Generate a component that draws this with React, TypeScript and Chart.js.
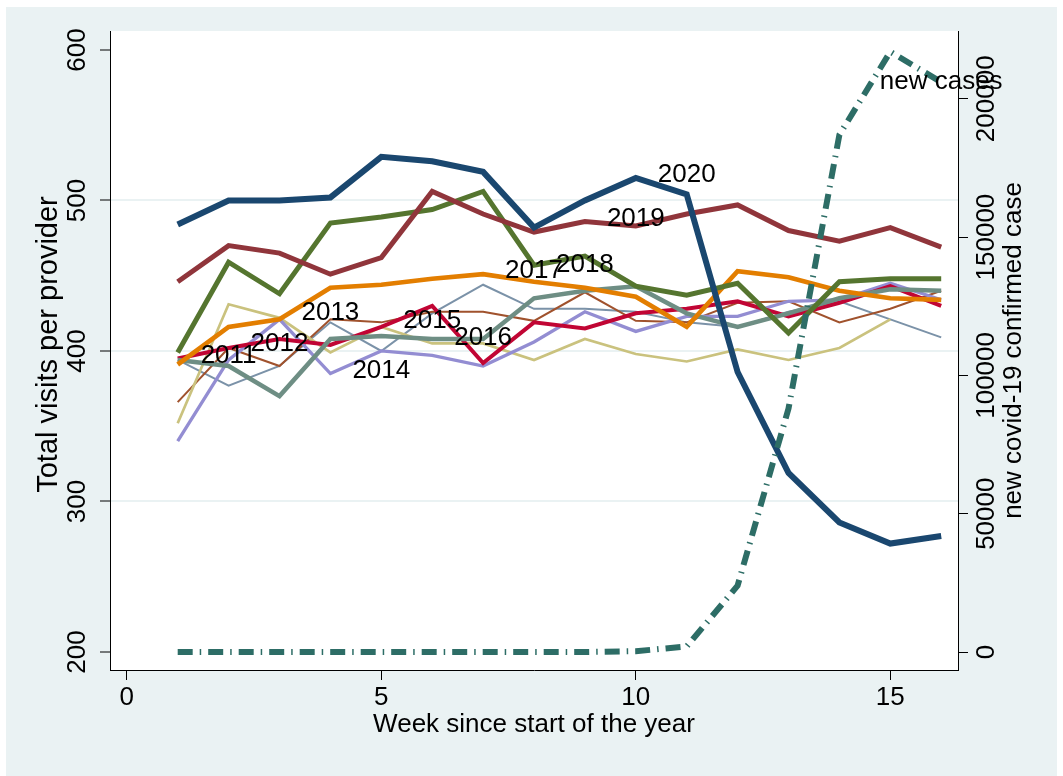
import React, { useEffect, useRef } from "react";
import { Chart, registerables } from "chart.js";

Chart.register(...registerables);

// ---------- data ----------
const weeks = [1, 2, 3, 4, 5, 6, 7, 8, 9, 10, 11, 12, 13, 14, 15, 16];

const visits2020 = [484, 500, 500, 502, 529, 526, 519, 482, 500, 515, 504, 386, 319, 286, 272, 277];
const visits2019 = [446, 470, 465, 451, 462, 506, 491, 479, 486, 483, 491, 497, 480, 473, 482, 469];
const visits2018 = [399, 459, 438, 485, 489, 494, 506, 457, 463, 443, 437, 445, 412, 446, 448, 448];
const visits2017 = [391, 416, 421, 442, 444, 448, 451, 446, 442, 436, 416, 453, 449, 440, 435, 434];
const visits2016 = [394, 390, 370, 408, 410, 408, 408, 435, 440, 443, 425, 416, 425, 435, 441, 440];
const visits2015 = [395, 402, 408, 404, 416, 430, 392, 419, 415, 425, 428, 433, 423, 432, 443, 430];
const visits2014 = [340, 394, 421, 385, 400, 397, 390, 406, 426, 413, 423, 423, 433, 434, 445, 434];
const visits2013 = [352, 431, 422, 399, 416, 405, 405, 394, 408, 398, 393, 401, 394, 402, 421, null];
const visits2012 = [366, 402, 390, 421, 419, 426, 426, 420, 439, 420, 419, 432, 433, 419, 428, 440];
const visits2011 = [394, 377, 390, 419, 400, 425, 444, 428, 428, 426, 419, 416, 426, 433, 421, 409];

const newCases = [0, 0, 0, 0, 0, 0, 0, 0, 0, 300, 2000, 24000, 88000, 187000, 217000, 206000];

const xTickValues = [0, 5, 10, 15];
const leftTickValues = [200, 300, 400, 500, 600];
const rightTickValues = [0, 50000, 100000, 150000, 200000];
const gridValues = [300, 400, 500];

const yearLabels = ["2011", "2012", "2013", "2014", "2015", "2016", "2017", "2018", "2019", "2020"];
const yearLabelWeeks = [2, 3, 4, 5, 6, 7, 8, 9, 10, 11];
const yearLabelValues = [397, 405, 425, 387, 420, 409, 453, 457, 488, 517];

const newCasesLabel = "new cases";
const newCasesLabelWeek = 16;
const newCasesLabelValue = 206000;

const xTitle = "Week since start of the year";
const yTitle = "Total visits per provider";
const y2Title = "new covid-19 confirmed case";

// ---------- styles ----------
const FONT = "'Liberation Sans', Arial, Helvetica, sans-serif";
const BG = "#eaf2f3";

const seriesStyles = [
  { label: "2020", data: visits2020, color: "#1a476f", width: 6 },
  { label: "2019", data: visits2019, color: "#90353b", width: 5 },
  { label: "2018", data: visits2018, color: "#55752f", width: 5 },
  { label: "2017", data: visits2017, color: "#e37e00", width: 4.7 },
  { label: "2016", data: visits2016, color: "#6e8e84", width: 4.5 },
  { label: "2015", data: visits2015, color: "#c10534", width: 4 },
  { label: "2014", data: visits2014, color: "#938dd2", width: 3.3 },
  { label: "2013", data: visits2013, color: "#cac27e", width: 2.7 },
  { label: "2012", data: visits2012, color: "#a0522d", width: 2 },
  { label: "2011", data: visits2011, color: "#7b92a8", width: 2 },
];

function drawRotated(ctx: CanvasRenderingContext2D, text: string, x: number, y: number) {
  ctx.save();
  ctx.translate(x, y);
  ctx.rotate(-Math.PI / 2);
  ctx.textAlign = "center";
  ctx.textBaseline = "alphabetic";
  ctx.fillText(text, 0, 0);
  ctx.restore();
}

const decorPlugin = {
  id: "decor",
  beforeDraw(chart: any) {
    const { ctx, chartArea } = chart;
    ctx.save();
    ctx.fillStyle = "#ffffff";
    ctx.fillRect(0, 0, chart.width, chart.height);
    ctx.fillStyle = BG;
    ctx.fillRect(6, 7, 1051, 769);
    ctx.fillStyle = "#ffffff";
    ctx.fillRect(chartArea.left, chartArea.top, chartArea.right - chartArea.left, chartArea.bottom - chartArea.top);
    ctx.restore();
  },
  afterDraw(chart: any) {
    const { ctx, chartArea, scales } = chart;
    const xs = scales.x;
    const ys = scales.y;
    const y2s = scales.y2;
    ctx.save();
    ctx.fillStyle = "#000";
    ctx.font = `26px ${FONT}`;

    // x tick labels
    ctx.textAlign = "center";
    ctx.textBaseline = "alphabetic";
    xTickValues.forEach((v) => {
      ctx.fillText(String(v), xs.getPixelForValue(v), 705);
    });
    // x title
    ctx.fillText(xTitle, (chartArea.left + chartArea.right) / 2, 732);

    // left tick labels
    leftTickValues.forEach((v) => drawRotated(ctx, String(v), 85, ys.getPixelForValue(v)));
    // right tick labels
    rightTickValues.forEach((v) => drawRotated(ctx, String(v), 994, y2s.getPixelForValue(v)));

    const midY = (chartArea.top + chartArea.bottom) / 2;
    drawRotated(ctx, y2Title, 1021, midY);
    ctx.font = `29px ${FONT}`;
    drawRotated(ctx, yTitle, 57, midY - 6);
    ctx.font = `26px ${FONT}`;

    // series labels
    ctx.textAlign = "center";
    ctx.textBaseline = "middle";
    yearLabels.forEach((t, i) => {
      ctx.fillText(t, xs.getPixelForValue(yearLabelWeeks[i]), ys.getPixelForValue(yearLabelValues[i]));
    });
    ctx.fillText(newCasesLabel, xs.getPixelForValue(newCasesLabelWeek), y2s.getPixelForValue(newCasesLabelValue));
    ctx.restore();
  },
};

export default function App() {
  const ref = useRef<HTMLCanvasElement>(null);

  useEffect(() => {
    const canvas = ref.current;
    if (!canvas) return;

    const datasets: any[] = [
      {
        label: newCasesLabel,
        data: weeks.map((w, i) => ({ x: w, y: newCases[i] })),
        yAxisID: "y2",
        borderColor: "#2d6d66",
        borderWidth: 6,
        borderDash: [15, 7, 1.5, 7],
        borderCapStyle: "butt",
        pointRadius: 0,
        tension: 0,
        fill: false,
      },
      ...seriesStyles.map((s) => ({
        label: s.label,
        data: weeks.map((w, i) => ({ x: w, y: s.data[i] })),
        yAxisID: "y",
        borderColor: s.color,
        borderWidth: s.width,
        pointRadius: 0,
        tension: 0,
        fill: false,
        spanGaps: false,
      })),
    ];

    const chart = new Chart(canvas, {
      type: "line",
      data: { datasets },
      options: {
        responsive: false,
        animation: false,
        devicePixelRatio: 1,
        layout: { padding: { top: 31, left: 0, right: 0, bottom: 0 } },
        plugins: { legend: { display: false }, tooltip: { enabled: false } },
        scales: {
          x: {
            type: "linear",
            position: "bottom",
            min: -0.33,
            max: 16.33,
            afterBuildTicks: (scale: any) => {
              scale.ticks = xTickValues.map((v) => ({ value: v }));
            },
            afterFit: (scale: any) => {
              scale.height = 106;
            },
            ticks: { display: false },
            grid: {
              color: "rgba(0,0,0,0)",
              tickColor: "#000",
              tickLength: 10,
              tickWidth: 1,
              drawOnChartArea: false,
            },
            border: { display: true, color: "#000", width: 1 },
          },
          y: {
            type: "linear",
            position: "left",
            min: 188,
            max: 612.6,
            afterBuildTicks: (scale: any) => {
              scale.ticks = leftTickValues.map((v) => ({ value: v }));
            },
            afterFit: (scale: any) => {
              scale.width = 110;
            },
            ticks: { display: false },
            grid: {
              color: (ctx: any) =>
                ctx.tick && gridValues.includes(ctx.tick.value) ? BG : "rgba(0,0,0,0)",
              lineWidth: 2,
              tickColor: "#000",
              tickLength: 10,
              tickWidth: 1,
            },
            border: { display: true, color: "#000", width: 1 },
          },
          y2: {
            type: "linear",
            position: "right",
            min: -6500,
            max: 224500,
            afterBuildTicks: (scale: any) => {
              scale.ticks = rightTickValues.map((v) => ({ value: v }));
            },
            afterFit: (scale: any) => {
              scale.width = 105;
            },
            ticks: { display: false },
            grid: {
              drawOnChartArea: false,
              color: "rgba(0,0,0,0)",
              tickColor: "#000",
              tickLength: 10,
              tickWidth: 1,
            },
            border: { display: true, color: "#000", width: 1 },
          },
        },
      },
      plugins: [decorPlugin],
    } as any);

    return () => chart.destroy();
  }, []);

  return (
    <div style={{ position: "fixed", left: 0, top: 0, width: 1063, height: 776, background: "#fff" }}>
      <canvas ref={ref} width={1063} height={776} style={{ display: "block", width: 1063, height: 776 }} />
    </div>
  );
}
